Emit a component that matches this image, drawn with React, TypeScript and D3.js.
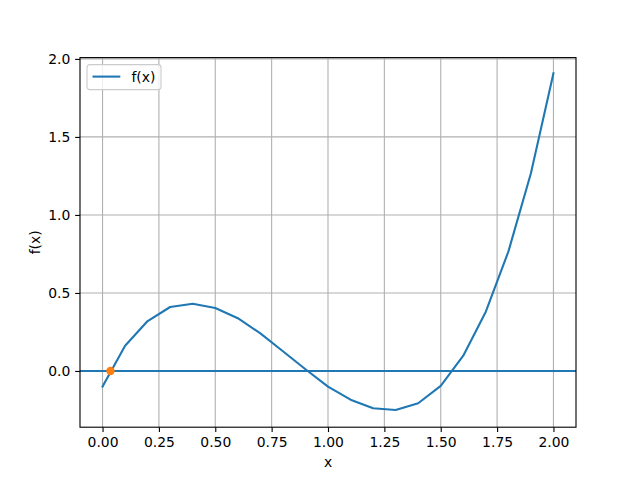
import React, { useEffect, useRef } from "react";
import * as d3 from "d3";

const xs = [0, 0.1, 0.2, 0.3, 0.4, 0.5, 0.6, 0.7, 0.8, 0.9, 1.0, 1.1, 1.2, 1.3, 1.4, 1.5, 1.6, 1.7, 1.8, 1.9, 2.0];
const ys = [-0.1, 0.162, 0.32, 0.41, 0.431, 0.404, 0.338, 0.241, 0.126, 0.011, -0.1, -0.184, -0.239, -0.25, -0.207, -0.096, 0.098, 0.38, 0.765, 1.267, 1.908];
const root = { x: 0.035, y: 0 };
const xTicks = [0, 0.25, 0.5, 0.75, 1.0, 1.25, 1.5, 1.75, 2.0];
const yTicks = [0, 0.5, 1.0, 1.5, 2.0];

const App = () => {
  const ref = useRef<SVGSVGElement>(null);

  useEffect(() => {
    const svg = d3.select(ref.current);
    svg.selectAll("*").remove();

    const width = 640;
    const height = 480;
    const margin = { top: 57.6, right: 64, bottom: 52.8, left: 80 };
    const w = width - margin.left - margin.right;
    const h = height - margin.top - margin.bottom;
    const font = "DejaVu Sans, sans-serif";

    const xScale = d3.scaleLinear().domain([-0.1, 2.1]).range([0, w]);
    const yScale = d3.scaleLinear().domain([-0.3604, 2.0084]).range([h, 0]);

    svg.attr("width", width).attr("height", height);
    svg.append("rect").attr("width", width).attr("height", height).attr("fill", "white");

    const g = svg.append("g").attr("transform", `translate(${margin.left},${margin.top})`);

    // grid
    g.append("g")
      .selectAll("line")
      .data(xTicks)
      .join("line")
      .attr("x1", (d) => xScale(d))
      .attr("x2", (d) => xScale(d))
      .attr("y1", 0)
      .attr("y2", h)
      .attr("stroke", "#b0b0b0")
      .attr("stroke-width", 1.1);

    g.append("g")
      .selectAll("line")
      .data(yTicks)
      .join("line")
      .attr("x1", 0)
      .attr("x2", w)
      .attr("y1", (d) => yScale(d))
      .attr("y2", (d) => yScale(d))
      .attr("stroke", "#b0b0b0")
      .attr("stroke-width", 1.1);

    // horizontal zero line
    g.append("line")
      .attr("x1", 0)
      .attr("x2", w)
      .attr("y1", yScale(0))
      .attr("y2", yScale(0))
      .attr("stroke", "#1f77b4")
      .attr("stroke-width", 2.08);

    const data = xs.map((x, i) => ({ x, y: ys[i] }));
    const line = d3
      .line<{ x: number; y: number }>()
      .x((d) => xScale(d.x))
      .y((d) => yScale(d.y));

    g.append("path")
      .datum(data)
      .attr("fill", "none")
      .attr("stroke", "#1f77b4")
      .attr("stroke-width", 2.08)
      .attr("stroke-linejoin", "round")
      .attr("stroke-linecap", "square")
      .attr("d", line);

    g.append("circle")
      .attr("cx", xScale(root.x))
      .attr("cy", yScale(root.y))
      .attr("r", 4.17)
      .attr("fill", "#ff7f0e");

    // axes
    const xAxis = g
      .append("g")
      .attr("transform", `translate(0,${h})`)
      .call(d3.axisBottom(xScale).tickValues(xTicks).tickFormat(d3.format(".2f")).tickSize(4.86).tickPadding(4.86));
    xAxis.select(".domain").remove();

    const yAxis = g
      .append("g")
      .call(d3.axisLeft(yScale).tickValues(yTicks).tickFormat(d3.format(".1f")).tickSize(4.86).tickPadding(4.86));
    yAxis.select(".domain").remove();

    [xAxis, yAxis].forEach((a) => {
      a.selectAll("line").attr("stroke", "black").attr("stroke-width", 1.11);
      a.selectAll("text").style("font-family", font).style("font-size", "13.9px").attr("fill", "black");
    });

    // frame
    g.append("rect")
      .attr("width", w)
      .attr("height", h)
      .attr("fill", "none")
      .attr("stroke", "black")
      .attr("stroke-width", 1.11);

    // labels
    g.append("text")
      .attr("x", w / 2)
      .attr("y", h + 40)
      .attr("text-anchor", "middle")
      .style("font-family", font)
      .style("font-size", "13.9px")
      .text("x");

    g.append("text")
      .attr("transform", "rotate(-90)")
      .attr("x", -h / 2)
      .attr("y", -40)
      .attr("text-anchor", "middle")
      .style("font-family", font)
      .style("font-size", "13.9px")
      .text("f(x)");

    // legend
    const lg = g.append("g").attr("transform", "translate(7,7)");
    lg.append("rect")
      .attr("width", 74)
      .attr("height", 25)
      .attr("rx", 2.8)
      .attr("fill", "white")
      .attr("fill-opacity", 0.8)
      .attr("stroke", "#cccccc")
      .attr("stroke-width", 1.11);
    lg.append("line")
      .attr("x1", 5.5)
      .attr("x2", 33.3)
      .attr("y1", 12)
      .attr("y2", 12)
      .attr("stroke", "#1f77b4")
      .attr("stroke-width", 2.08);
    lg.append("text")
      .attr("x", 44.4)
      .attr("y", 17)
      .style("font-family", font)
      .style("font-size", "13.9px")
      .text("f(x)");
  }, []);

  return (
    <div style={{ position: "fixed", left: 0, top: 0 }}>
      <svg ref={ref} style={{ display: "block" }} />
    </div>
  );
};

export default App;
